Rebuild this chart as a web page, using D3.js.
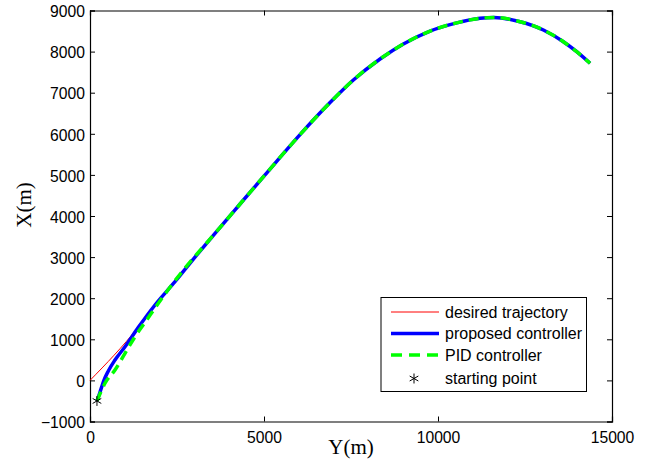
<!DOCTYPE html>
<html>
<head>
<meta charset="utf-8">
<script src="https://cdn.jsdelivr.net/npm/d3@7"></script>
<style>
  body { margin: 0; background: #fff; }
  svg { display: block; }
</style>
</head>
<body>
<div id="chart"></div>
<script>
// horizontal axis is Y(m), vertical axis is X(m)
const xTicks = [0, 5000, 10000, 15000];
const yTicks = [-1000, 0, 1000, 2000, 3000, 4000, 5000, 6000, 7000, 8000, 9000];

// shared part of the trajectory after the controllers converge
const commonY = [3018, 3544, 4300, 5030, 6035, 6898, 7568, 8335, 9005, 9772, 10539, 11209, 11600, 12358, 13028, 13603, 13986, 14370];
const commonX = [3000, 3530, 4280, 5000, 5980, 6760, 7309, 7820, 8185, 8500, 8700, 8810, 8830, 8727, 8526, 8241, 7998, 7715];

const desiredY = [0, 1389, 1868, 2443].concat(commonY);
const desiredX = [0, 1300, 1835, 2401].concat(commonX);

const proposedY = [200, 250, 320, 400, 527, 718, 1006, 1389, 1868, 2443].concat(commonY);
const proposedX = [-500, -380, -200, 0, 230, 496, 820, 1290, 1835, 2401].concat(commonX);

const pidY = [200, 300, 430, 718, 1006, 1293, 1629, 1964, 2347, 2700].concat(commonY.slice(1));
const pidX = [-500, -300, -70, 253, 659, 1063, 1470, 1876, 2321, 2700].concat(commonX.slice(1));

const startY = [200];
const startX = [-500];

const legendLabels = ["desired trajectory", "proposed controller", "PID controller", "starting point"];

const width = 649, height = 470;
const m = {top: 10.5, right: 37, bottom: 48.5, left: 90};

const svg = d3.select("#chart").append("svg")
  .attr("width", width)
  .attr("height", height);

const x = d3.scaleLinear().domain([0, 15000]).range([m.left, width - m.right]);
const y = d3.scaleLinear().domain([-1000, 9000]).range([height - m.bottom, m.top]);

const tickFont = "'Liberation Sans', Arial, Helvetica, sans-serif";
const labelFont = "'Liberation Serif', 'Times New Roman', serif";

// axes, ticks pointing inward like matlab
const axisB = svg.append("g")
  .attr("transform", `translate(0,${y.range()[0]})`)
  .call(d3.axisBottom(x).tickValues(xTicks).tickSize(-5).tickPadding(10).tickFormat(d3.format("d")));
const axisT = svg.append("g")
  .attr("transform", `translate(0,${y.range()[1]})`)
  .call(d3.axisTop(x).tickValues(xTicks).tickSize(-5).tickFormat(""));
const axisL = svg.append("g")
  .attr("transform", `translate(${x.range()[0]},0)`)
  .call(d3.axisLeft(y).tickValues(yTicks).tickSize(-5).tickPadding(5).tickFormat(d => d < 0 ? "\u2212" + Math.abs(d) : d));
const axisR = svg.append("g")
  .attr("transform", `translate(${x.range()[1]},0)`)
  .call(d3.axisRight(y).tickValues(yTicks).tickSize(-5).tickFormat(""));

[axisB, axisT, axisL, axisR].forEach(g => {
  g.select(".domain").attr("stroke", "#000").attr("stroke-width", 1.2);
  g.selectAll(".tick line").attr("stroke", "#000");
  g.selectAll("text")
    .attr("fill", "#000")
    .style("font-family", tickFont)
    .style("font-size", "15.7px");
});
axisL.selectAll("text").attr("dy", "0.4em");

// axis labels
svg.append("text")
  .attr("x", (x.range()[0] + x.range()[1]) / 2)
  .attr("y", 454)
  .attr("text-anchor", "middle")
  .style("font-family", labelFont)
  .style("font-size", "21px")
  .text("Y(m)");

svg.append("text")
  .attr("transform", `translate(31,${(y.range()[0] + y.range()[1]) / 2 - 11}) rotate(-90)`)
  .attr("text-anchor", "middle")
  .style("font-family", labelFont)
  .style("font-size", "21px")
  .text("X(m)");

// lines
const line = d3.line()
  .x(d => x(d[0]))
  .y(d => y(d[1]))
  .curve(d3.curveMonotoneX);

const zip = (a, b) => a.map((v, i) => [v, b[i]]);

const plot = svg.append("g");

plot.append("path")
  .datum(zip(desiredY, desiredX))
  .attr("fill", "none")
  .attr("stroke", "#ff0000")
  .attr("stroke-width", 1)
  .attr("d", line);

plot.append("path")
  .datum(zip(proposedY, proposedX))
  .attr("fill", "none")
  .attr("stroke", "#0000ff")
  .attr("stroke-width", 3.5)
  .attr("d", line);

plot.append("path")
  .datum(zip(pidY, pidX))
  .attr("fill", "none")
  .attr("stroke", "#00ff00")
  .attr("stroke-width", 3.5)
  .attr("stroke-dasharray", "10,6")
  .attr("d", line);

const star = d3.symbol().type(d3.symbolAsterisk).size(70);

plot.selectAll(".start")
  .data(zip(startY, startX))
  .join("path")
    .attr("class", "start")
    .attr("transform", d => `translate(${x(d[0])},${y(d[1])})`)
    .attr("d", star)
    .attr("fill", "none")
    .attr("stroke", "#000")
    .attr("stroke-width", 1);

// legend
const lg = svg.append("g").attr("transform", "translate(381,297.5)");

lg.append("rect")
  .attr("width", 205.5)
  .attr("height", 94)
  .attr("fill", "#fff")
  .attr("stroke", "#000")
  .attr("stroke-width", 1);

const rowY = [14.5, 36, 57.5, 81];
const styles = [
  {stroke: "#ff0000", w: 1, dash: null},
  {stroke: "#0000ff", w: 3.5, dash: null},
  {stroke: "#00ff00", w: 3.5, dash: "11,7"}
];

styles.forEach((s, i) => {
  lg.append("line")
    .attr("x1", 10).attr("x2", 58)
    .attr("y1", rowY[i]).attr("y2", rowY[i])
    .attr("stroke", s.stroke)
    .attr("stroke-width", s.w)
    .attr("stroke-dasharray", s.dash);
});

lg.append("path")
  .attr("transform", `translate(33,${rowY[3]})`)
  .attr("d", star)
  .attr("fill", "none")
  .attr("stroke", "#000")
  .attr("stroke-width", 1);

lg.selectAll(".lbl")
  .data(legendLabels)
  .join("text")
    .attr("class", "lbl")
    .attr("x", 64)
    .attr("y", (d, i) => rowY[i])
    .attr("dy", "0.35em")
    .style("font-family", tickFont)
    .style("font-size", "16px")
    .text(d => d);
</script>
</body>
</html>
